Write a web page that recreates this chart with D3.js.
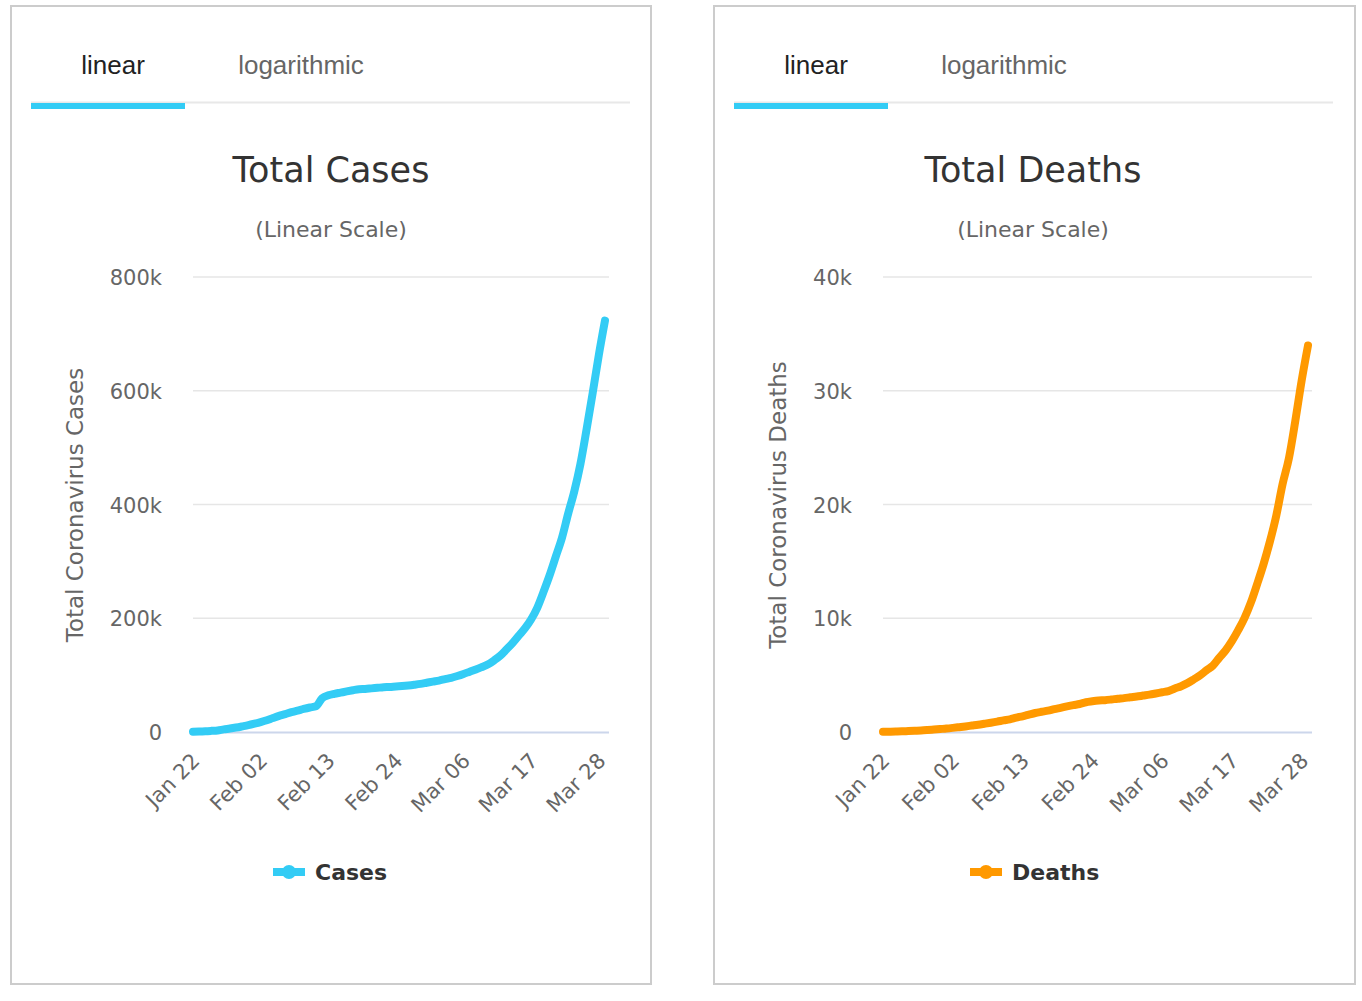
<!DOCTYPE html>
<html>
<head>
<meta charset="utf-8">
<script src="https://cdn.jsdelivr.net/npm/d3@7"></script>
<style>
  html, body { margin: 0; padding: 0; background: #fff; }
  svg { display: block; }
</style>
</head>
<body>
<svg id="chart" width="1362" height="1001"></svg>
<script>
const dates = ["Jan 22","Jan 23","Jan 24","Jan 25","Jan 26","Jan 27","Jan 28","Jan 29","Jan 30","Jan 31",
  "Feb 01","Feb 02","Feb 03","Feb 04","Feb 05","Feb 06","Feb 07","Feb 08","Feb 09","Feb 10",
  "Feb 11","Feb 12","Feb 13","Feb 14","Feb 15","Feb 16","Feb 17","Feb 18","Feb 19","Feb 20",
  "Feb 21","Feb 22","Feb 23","Feb 24","Feb 25","Feb 26","Feb 27","Feb 28","Feb 29","Mar 01",
  "Mar 02","Mar 03","Mar 04","Mar 05","Mar 06","Mar 07","Mar 08","Mar 09","Mar 10","Mar 11",
  "Mar 12","Mar 13","Mar 14","Mar 15","Mar 16","Mar 17","Mar 18","Mar 19","Mar 20","Mar 21",
  "Mar 22","Mar 23","Mar 24","Mar 25","Mar 26","Mar 27","Mar 28","Mar 29"];

const cases = [580,845,1317,2015,2800,4581,6058,7813,9823,11950,
  14553,17391,20630,24545,28266,31439,34876,37552,40553,43099,
  45134,59287,64438,67100,69197,71329,73332,75184,75700,76677,
  77673,78651,79205,80087,80828,81820,83112,84615,86604,88585,
  90443,93016,95314,98425,102050,106099,109991,114381,118948,126214,
  134576,145483,156653,169593,182490,198238,218822,246417,275875,308587,
  341365,383561,422829,471035,531865,596366,663127,723390];

const deaths = [17,25,41,56,80,106,132,170,213,259,
  304,362,426,492,565,638,724,813,910,1018,
  1115,1261,1383,1526,1669,1775,1873,2009,2126,2247,
  2360,2460,2618,2699,2763,2800,2858,2923,2977,3050,
  3117,3202,3285,3387,3494,3599,3827,4025,4296,4628,
  4981,5428,5833,6520,7162,7979,8951,10031,11387,13032,
  14769,16758,19029,21818,24094,27349,30889,33976];

const xTickLabels = ["Jan 22","Feb 02","Feb 13","Feb 24","Mar 06","Mar 17","Mar 28"];
const casesTicks = [0, 200000, 400000, 600000, 800000];
const deathsTicks = [0, 10000, 20000, 30000, 40000];
const tabLabels = ["linear", "logarithmic"];

const svg = d3.select("#chart");
const fontMain = "'DejaVu Sans', 'Open Sans', sans-serif";

function panel(cfg) {
  const g = svg.append("g").attr("transform", `translate(${cfg.ox},0)`);
  g.append("rect").attr("x", 1).attr("y", 6).attr("width", cfg.w).attr("height", 978)
    .attr("fill", "#fff").attr("stroke", "#cccccc").attr("stroke-width", 2);

  // tabs
  g.append("line").attr("x1", 21).attr("x2", cfg.tabLineEnd).attr("y1", 102.5).attr("y2", 102.5)
    .attr("stroke", "#e8e8e8").attr("stroke-width", 2);
  g.append("rect").attr("x", 21).attr("y", 103).attr("width", 154).attr("height", 6).attr("fill", "#33ccf5");
  g.append("text").attr("x", 103).attr("y", 74).attr("text-anchor", "middle")
    .attr("font-family", "'Liberation Sans', Arial, sans-serif").attr("font-size", 26)
    .attr("fill", "#222").text(tabLabels[0]);
  g.append("text").attr("x", 291).attr("y", 74).attr("text-anchor", "middle")
    .attr("font-family", "'Liberation Sans', Arial, sans-serif").attr("font-size", 26)
    .attr("fill", "#666").text(tabLabels[1]);

  // titles
  g.append("text").attr("x", cfg.titleX).attr("y", 182).attr("text-anchor", "middle")
    .attr("font-family", fontMain).attr("font-size", 35).attr("fill", "#333").text(cfg.title);
  g.append("text").attr("x", cfg.titleX).attr("y", 237).attr("text-anchor", "middle")
    .attr("font-family", fontMain).attr("font-size", 22).attr("fill", "#666").text("(Linear Scale)");

  const x = d3.scaleLinear().domain([0, dates.length - 1]).range([cfg.plotL - cfg.ox, cfg.plotEnd - cfg.ox]);
  const y = d3.scaleLinear().domain([0, cfg.ticks[cfg.ticks.length - 1]]).range([732, 277]);

  // grid
  cfg.ticks.forEach(t => {
    if (t === 0) return;
    g.append("line").attr("x1", cfg.plotL - cfg.ox).attr("x2", cfg.plotR - cfg.ox)
      .attr("y1", y(t)).attr("y2", y(t)).attr("stroke", "#e6e6e6").attr("stroke-width", 1.5);
  });
  // y labels
  cfg.ticks.forEach(t => {
    g.append("text").attr("x", cfg.plotL - cfg.ox - 31).attr("y", y(t) + 8)
      .attr("text-anchor", "end").attr("font-family", fontMain).attr("font-size", 21)
      .attr("fill", "#666").text(t === 0 ? "0" : d3.format("d")(t / 1000) + "k");
  });
  // y axis title
  g.append("text").attr("transform", `translate(${cfg.yTitleX},505) rotate(-90)`)
    .attr("text-anchor", "middle").attr("font-family", fontMain).attr("font-size", 23)
    .attr("fill", "#666").text(cfg.yTitle);

  // baseline
  g.append("line").attr("x1", cfg.plotL - cfg.ox).attr("x2", cfg.plotR - cfg.ox)
    .attr("y1", 732.5).attr("y2", 732.5).attr("stroke", "#ccd6eb").attr("stroke-width", 2);

  // x labels
  xTickLabels.forEach(lbl => {
    const i = dates.indexOf(lbl);
    const px = x(i);
    g.append("text").attr("transform", `translate(${px + 8},762) rotate(-45)`)
      .attr("text-anchor", "end").attr("font-family", fontMain).attr("font-size", 21)
      .attr("fill", "#666").text(lbl);
  });

  // line
  const line = d3.line().x((d, i) => x(i)).y(d => y(d)).curve(d3.curveMonotoneX);
  g.append("path").datum(cfg.values).attr("d", line).attr("fill", "none")
    .attr("stroke", cfg.color).attr("stroke-width", 8).attr("stroke-linecap", "round")
    .attr("stroke-linejoin", "round");

  // legend
  const lx = cfg.legendX - cfg.ox;
  g.append("line").attr("x1", lx).attr("x2", lx + 32).attr("y1", 872).attr("y2", 872)
    .attr("stroke", cfg.color).attr("stroke-width", 8);
  g.append("circle").attr("cx", lx + 16).attr("cy", 872).attr("r", 7).attr("fill", cfg.color);
  g.append("text").attr("x", lx + 42).attr("y", 880).attr("font-family", fontMain)
    .attr("font-size", 22).attr("font-weight", "bold").attr("fill", "#333").text(cfg.legend);
}

panel({ ox: 10, w: 640, tabLineEnd: 620, title: "Total Cases", titleX: 321,
  plotL: 193, plotR: 609, plotEnd: 605, ticks: casesTicks, values: cases, color: "#33ccf5",
  yTitle: "Total Coronavirus Cases", yTitleX: 73, legendX: 273, legend: "Cases" });
panel({ ox: 713, w: 641, tabLineEnd: 620, title: "Total Deaths", titleX: 320,
  plotL: 883, plotR: 1312, plotEnd: 1308, ticks: deathsTicks, values: deaths, color: "#ff9900",
  yTitle: "Total Coronavirus Deaths", yTitleX: 73, legendX: 970, legend: "Deaths" });
</script>
</body>
</html>
